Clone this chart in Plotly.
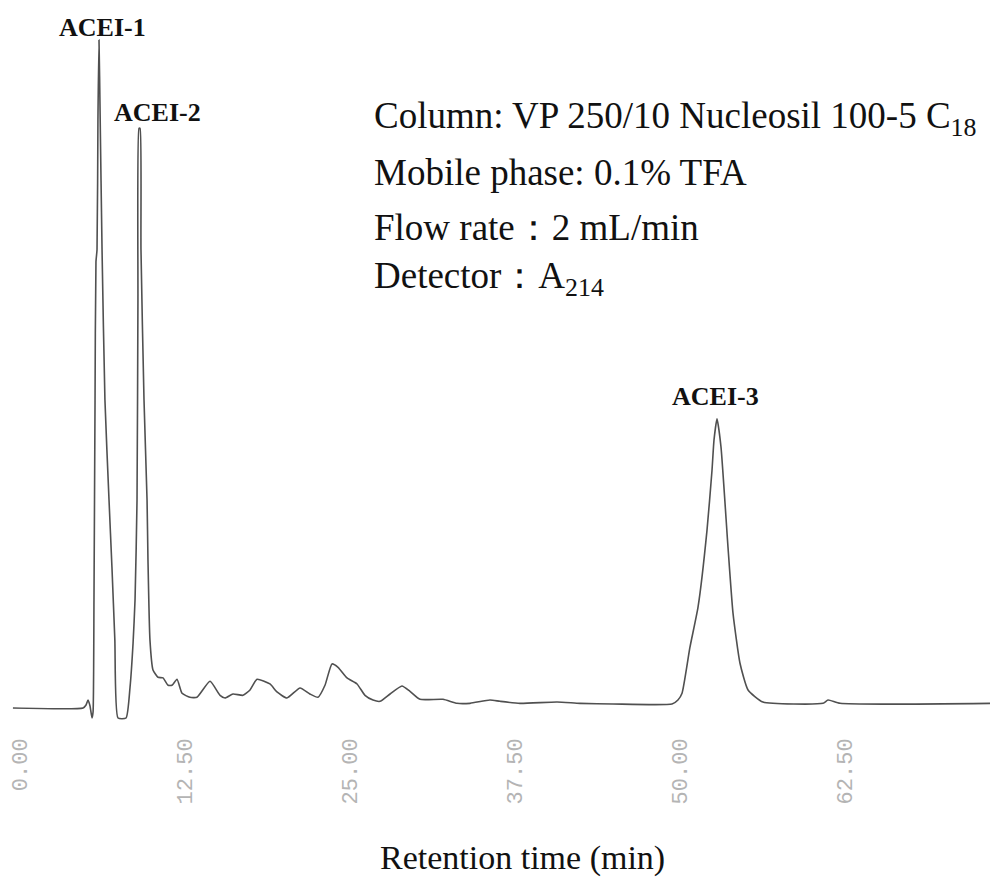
import plotly.graph_objects as go

# Retention time (min) and detector signal (relative units, ACEI-1 = 100)
time_min = [-0.52, 4.79, 5.02, 5.17, 5.32, 5.47, 5.55, 5.62, 5.70, 5.77, 5.85, 5.92, 6.00,
            6.08, 6.23, 6.45, 6.76, 6.98, 7.20, 7.44, 8.05, 8.35, 8.58, 8.73, 8.88, 8.95,
            9.03, 9.11, 9.18, 9.41, 9.64, 9.71, 9.86, 10.09, 10.47, 10.85, 11.23, 11.53,
            11.91, 12.29, 12.89, 13.42, 14.41, 15.17, 15.55, 16.15, 16.91, 17.44, 17.97,
            18.95, 19.48, 20.24, 21.23, 21.98, 22.59, 23.12, 23.65, 24.11, 24.79, 25.55,
            26.15, 26.76, 27.29, 28.05, 28.95, 29.56, 30.32, 32.06, 33.12, 34.11, 35.62,
            36.38, 37.89, 40.70, 42.44, 44.94, 49.41, 49.86, 50.17, 50.77, 51.38, 52.06,
            52.44, 52.59, 52.82, 53.12, 53.65, 54.03, 54.56, 55.17, 56.30, 60.85, 61.23,
            62.14, 73.5]
signal = [0, 0, 0.45, 1.2, 0.3, -1.5, -0.6, 16.2, 46.1, 66.8, 68.6, 88.0, 100,
          89.5, 68.6, 46.1, 31.1, 21.1, 10.2, -1.5, -1.5, 3.1, 9.7, 16.2, 31.1, 61.1,
          86.8, 86.8, 68.6, 46.1, 31.1, 22.2, 10.2, 5.7, 4.6, 4.5, 3.4, 3.4,
          4.3, 2.2, 1.6, 1.6, 4.0, 1.9, 1.5, 2.1, 1.9, 2.7, 4.3,
          3.6, 2.4, 1.5, 3.0, 2.1, 1.6, 3.4, 6.6, 6.1, 4.5, 3.6,
          1.9, 1.2, 1.0, 2.1, 3.3, 2.5, 1.3, 1.3, 0.7, 0.7, 1.2,
          1.0, 0.7, 0.9, 0.7, 0.6, 0.6, 1.2, 2.2, 9.1, 15.1, 26.6,
          35.6, 40.1, 43.3, 39.1, 24.1, 14.2, 6.7, 2.7, 0.9, 0.7, 1.2,
          0.7, 0.7]

tick_vals = [0, 12.5, 25, 37.5, 50, 62.5]
tick_text = ["0.00", "12.50", "25.00", "37.50", "50.00", "62.50"]

peak_names = ["ACEI-1", "ACEI-2", "ACEI-3"]
peak_label_t = [6.23, 10.4, 52.74]
peak_label_v = [101.9, 89.2, 46.6]

conditions = [
    "Column: VP 250/10 Nucleosil 100-5 C<sub>18</sub>",
    "Mobile phase: 0.1% TFA",
    "Flow rate\uff1a2 mL/min",
    "Detector\uff1aA<sub>214</sub>",
]
cond_y_px = [118, 172, 227, 278]

fig = go.Figure()
fig.add_trace(go.Scatter(x=time_min, y=signal, mode="lines",
                         line=dict(color="#505050", width=1.6, shape="spline", smoothing=0.5),
                         hoverinfo="skip", showlegend=False))

serif = "Liberation Serif, Times New Roman, serif"
for name, t, v in zip(peak_names, peak_label_t, peak_label_v):
    fig.add_annotation(x=t, y=v, xref="x", yref="y", text="<b>%s</b>" % name,
                       showarrow=False, xanchor="center", yanchor="middle",
                       font=dict(family=serif, size=26, color="#111"))

plot_h = 725
for txt, ypx in zip(conditions, cond_y_px):
    fig.add_annotation(x=372 / 990, y=1 - ypx / plot_h, xref="paper", yref="paper",
                       text=txt, showarrow=False, xanchor="left", yanchor="middle",
                       font=dict(family=serif, size=37, color="#111"))

fig.add_annotation(x=522 / 990, y=1 - 858 / plot_h, xref="paper", yref="paper",
                   text="Retention time (min)", showarrow=False,
                   xanchor="center", yanchor="middle",
                   font=dict(family=serif, size=34, color="#111"))

fig.update_layout(
    width=990, height=880,
    margin=dict(l=0, r=0, t=0, b=880 - plot_h),
    paper_bgcolor="white", plot_bgcolor="white",
    xaxis=dict(range=[-1.5, 73.5], tickvals=tick_vals, ticktext=tick_text,
               tickangle=-90, showgrid=False, zeroline=False, showline=False,
               ticks="", ticklabelstandoff=8,
               tickfont=dict(family="Liberation Mono, monospace", size=22,
                             color="#b4b4b4")),
    yaxis=dict(range=[-2.545, 106.0], visible=False, showgrid=False, zeroline=False),
)

fig.write_html("out.html")
